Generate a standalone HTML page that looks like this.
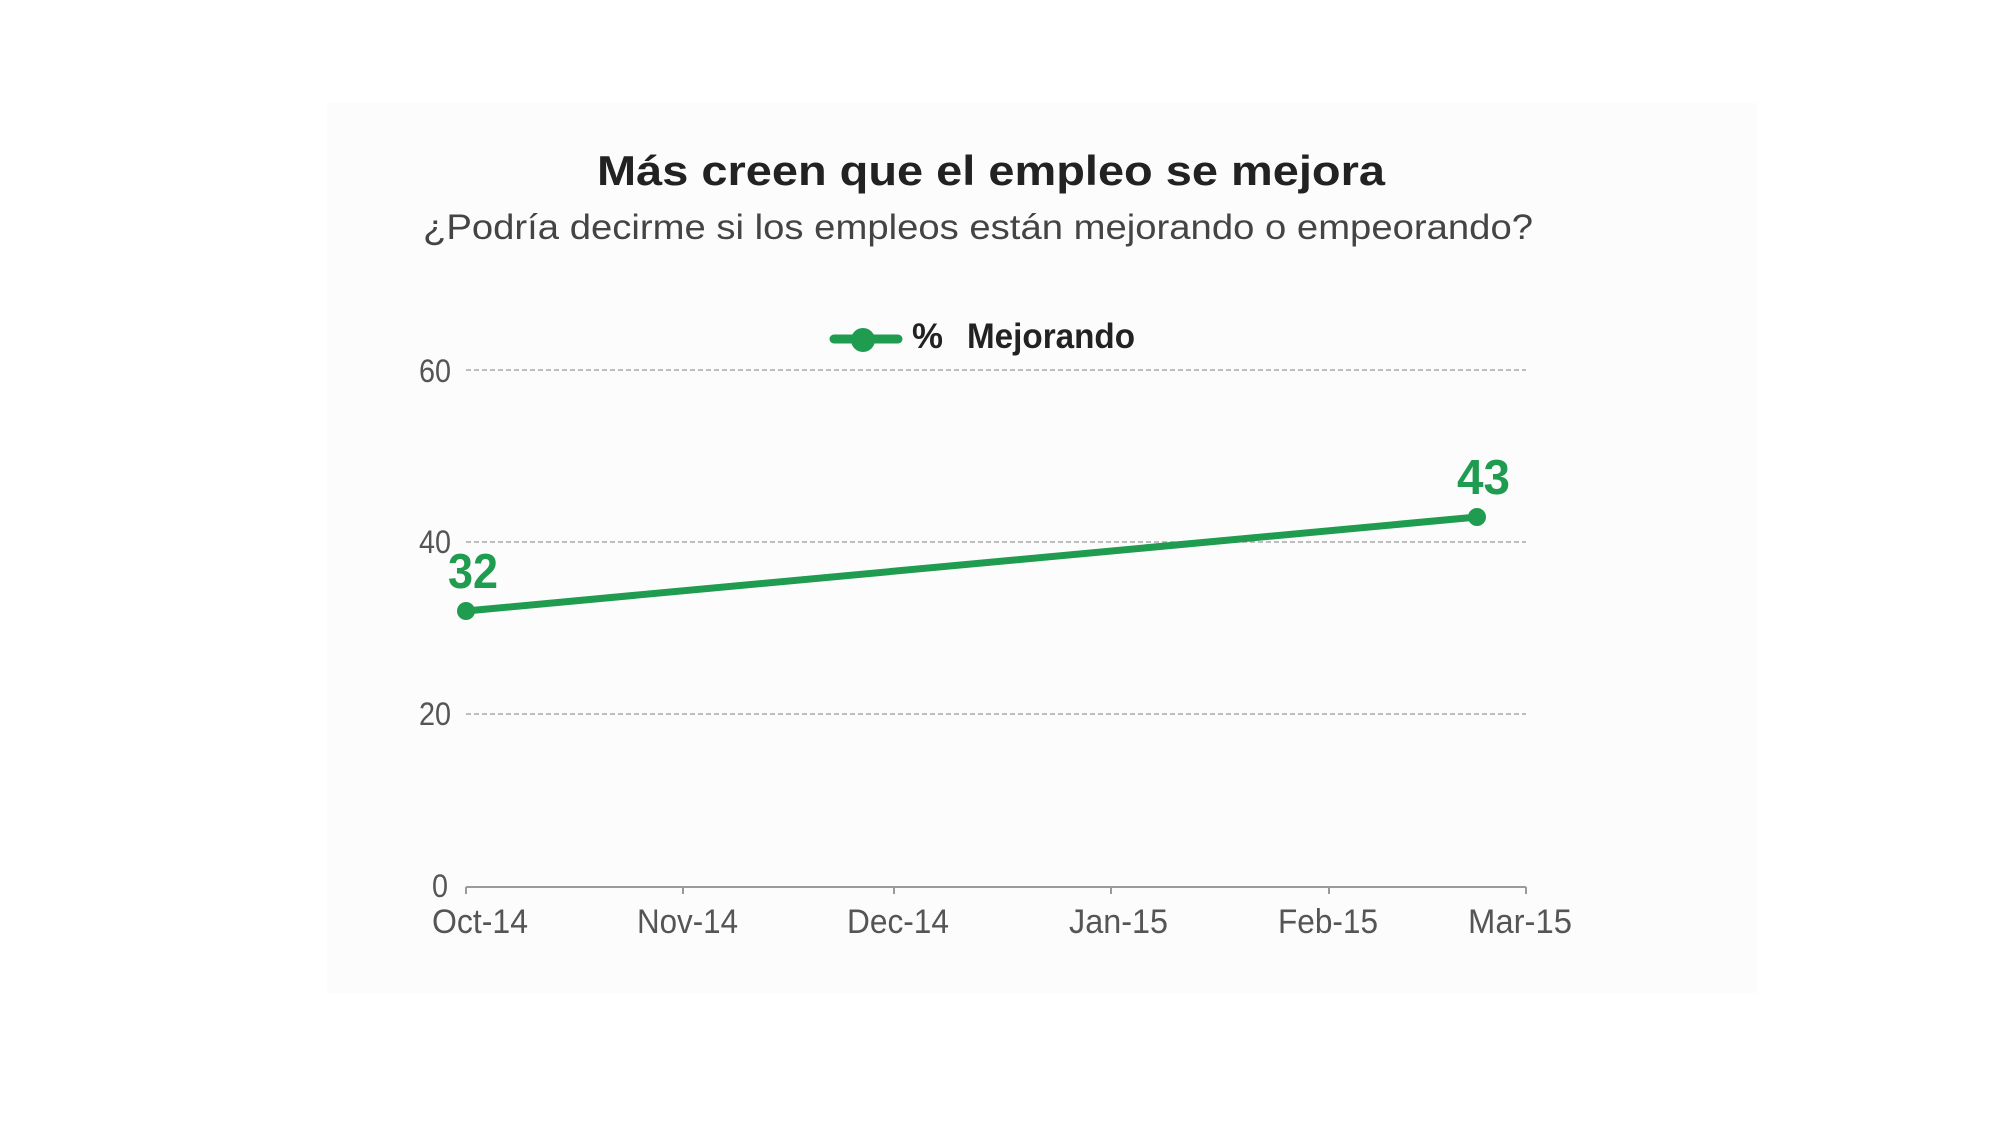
<!DOCTYPE html>
<html>
<head>
<meta charset="utf-8">
<style>
  html, body { margin: 0; padding: 0; background: #ffffff; }
  body { width: 2000px; height: 1125px; overflow: hidden; }
  svg { display: block; }
  text { font-family: "Liberation Sans", sans-serif; }
</style>
</head>
<body>
<svg width="2000" height="1125" viewBox="0 0 2000 1125" xmlns="http://www.w3.org/2000/svg">
  <rect x="0" y="0" width="2000" height="1125" fill="#ffffff"/>
  <rect x="327" y="103" width="1430" height="890" fill="#fcfcfc"/>

  <!-- Title -->
  <text x="597" y="185" font-size="42" font-weight="bold" fill="#222222" textLength="788" lengthAdjust="spacingAndGlyphs">Más creen que el empleo se mejora</text>
  <!-- Subtitle -->
  <text x="423" y="239" font-size="35" fill="#444444" textLength="1110" lengthAdjust="spacingAndGlyphs">¿Podría decirme si los empleos están mejorando o empeorando?</text>

  <!-- Legend -->
  <line x1="834" y1="339" x2="898" y2="339" stroke="#1f9c4f" stroke-width="9" stroke-linecap="round"/>
  <circle cx="863" cy="340" r="12" fill="#1f9c4f"/>
  <text x="912" y="348" font-size="35" font-weight="bold" fill="#222222" textLength="31" lengthAdjust="spacingAndGlyphs">%</text>
  <text x="967" y="348" font-size="35" font-weight="bold" fill="#222222" textLength="168" lengthAdjust="spacingAndGlyphs">Mejorando</text>

  <!-- Gridlines -->
  <g stroke="#a8a8a8" stroke-width="1.6" stroke-dasharray="5 3">
    <line x1="466" y1="370" x2="1526" y2="370"/>
    <line x1="466" y1="542" x2="1526" y2="542"/>
    <line x1="466" y1="714" x2="1526" y2="714"/>
  </g>

  <!-- Y labels -->
  <g font-size="32" fill="#555555" text-anchor="end">
    <text x="451" y="382" textLength="32" lengthAdjust="spacingAndGlyphs">60</text>
    <text x="451" y="553" textLength="32" lengthAdjust="spacingAndGlyphs">40</text>
    <text x="451" y="725" textLength="32" lengthAdjust="spacingAndGlyphs">20</text>
    <text x="448" y="897" textLength="16" lengthAdjust="spacingAndGlyphs">0</text>
  </g>

  <!-- X axis -->
  <g stroke="#9a9a9a" stroke-width="2" fill="none">
    <line x1="466" y1="887" x2="1526" y2="887"/>
    <line x1="466" y1="887" x2="466" y2="894"/>
    <line x1="683" y1="887" x2="683" y2="894"/>
    <line x1="894" y1="887" x2="894" y2="894"/>
    <line x1="1111" y1="887" x2="1111" y2="894"/>
    <line x1="1329" y1="887" x2="1329" y2="894"/>
    <line x1="1526" y1="887" x2="1526" y2="894"/>
  </g>

  <!-- X labels -->
  <g font-size="34" fill="#555555">
    <text x="432" y="933" textLength="96" lengthAdjust="spacingAndGlyphs">Oct-14</text>
    <text x="637" y="933" textLength="101" lengthAdjust="spacingAndGlyphs">Nov-14</text>
    <text x="847" y="933" textLength="102" lengthAdjust="spacingAndGlyphs">Dec-14</text>
    <text x="1069" y="933" textLength="99" lengthAdjust="spacingAndGlyphs">Jan-15</text>
    <text x="1278" y="933" textLength="100" lengthAdjust="spacingAndGlyphs">Feb-15</text>
    <text x="1468" y="933" textLength="104" lengthAdjust="spacingAndGlyphs">Mar-15</text>
  </g>

  <!-- Series -->
  <line x1="466" y1="611" x2="1477" y2="517" stroke="#1f9c4f" stroke-width="7" stroke-linecap="round"/>
  <circle cx="466" cy="611" r="9" fill="#1f9c4f"/>
  <circle cx="1477" cy="517" r="9" fill="#1f9c4f"/>

  <!-- Data labels -->
  <text x="448" y="588" font-size="49" font-weight="bold" fill="#1f9c4f" textLength="50" lengthAdjust="spacingAndGlyphs">32</text>
  <text x="1457" y="494" font-size="49" font-weight="bold" fill="#1f9c4f" textLength="53" lengthAdjust="spacingAndGlyphs">43</text>
</svg>
</body>
</html>
